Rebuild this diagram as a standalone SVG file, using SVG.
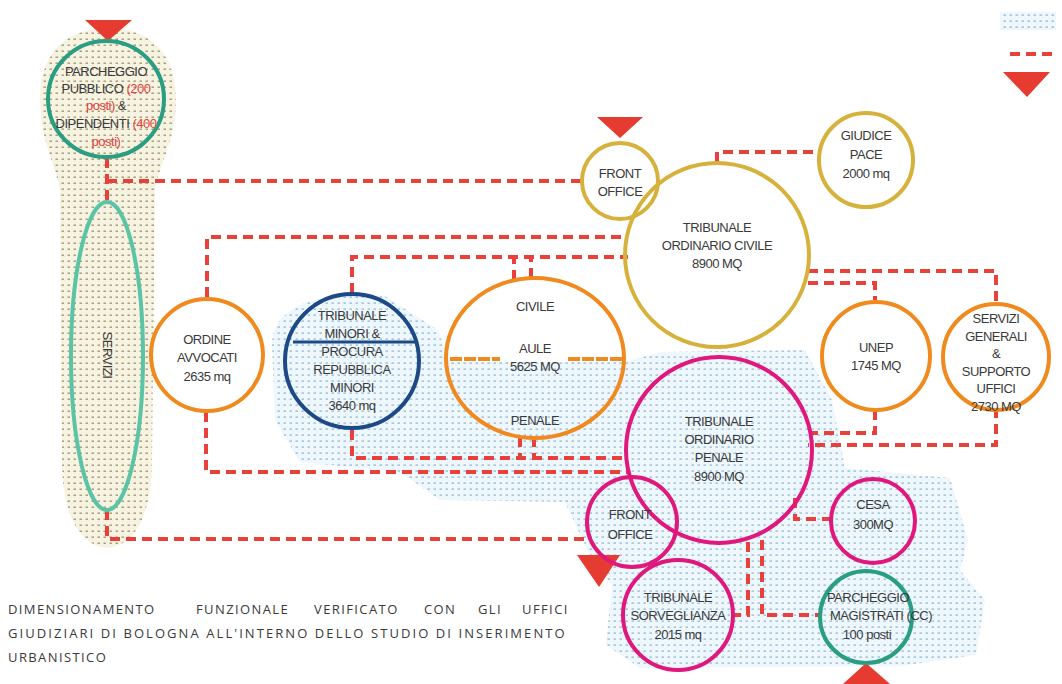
<svg xmlns="http://www.w3.org/2000/svg" width="1062" height="684" viewBox="0 0 1062 684">
<defs>
<pattern id="dotB" width="6" height="6" patternUnits="userSpaceOnUse"><rect width="6" height="6" fill="#eef7fc"/><rect x="1.5" y="2.5" width="2.5" height="1.2" fill="#8fb4d6"/></pattern>
<pattern id="dotY" width="6" height="6" patternUnits="userSpaceOnUse"><rect width="6" height="6" fill="#f7f3e2"/><rect x="1.5" y="2.5" width="2.5" height="1.4" fill="#a49a70"/></pattern>
</defs>
<style>
.t{font-family:"Liberation Sans",Arial,sans-serif;font-size:13px;fill:#3a3a3a;text-anchor:middle;letter-spacing:-0.5px}
.rt{fill:#e5403a}
.c{stroke:#e8403a;stroke-width:4;fill:none;stroke-dasharray:10 6}
.yel{fill:none;stroke:#d6b23c;stroke-width:4}
.org{fill:none;stroke:#f0891e;stroke-width:4}
.mag{fill:none;stroke:#e0177c;stroke-width:4}
.grn{fill:none;stroke:#2a9e82;stroke-width:4}
.tri{fill:#e63b30}
.note{font-family:"Open Sans","Liberation Sans",sans-serif;font-size:13px;fill:#3a3a3a;letter-spacing:1.4px}
</style>

<!-- background areas -->
<path d="M40,100 C40,45 75,28 108,28 C145,28 176,48 176,100 C176,140 160,162 155,190 L152,460 C152,505 140,545 107,548 C75,545 62,505 62,460 L60,190 C55,162 40,140 40,100 Z" fill="url(#dotY)"/>
<path d="M272,345 C272,302 330,290 385,296 L438,330 L450,362 L625,362 L660,352 L805,350 L832,400 L845,468 L950,478 L968,540 L960,570 L985,600 L976,655 L900,666 L640,668 L606,645 L612,585 L592,560 L565,502 L440,500 L400,472 L300,462 L275,420 Z" fill="url(#dotB)"/>

<!-- legend -->
<g id="legend">
<rect x="1000" y="12" width="56" height="18" fill="url(#dotB)"/>
<line x1="1010" y1="54" x2="1052" y2="54" class="c" stroke-dasharray="14 6"/>
<polygon points="1003,72 1050,72 1027,97" class="tri"/>
</g>

<!-- connectors -->
<g id="connectors">
<path class="c" d="M107,158 V202"/>
<path class="c" d="M107,181 H582"/>
<path class="c" d="M207,297 V237 H627"/>
<path class="c" d="M352,293 V257 H628"/>
<path class="c" d="M514,280 V257"/>
<path class="c" d="M531,278 V257"/>
<path class="c" d="M206,412 V472 H628"/>
<path class="c" d="M352,430 V458 H628"/>
<path class="c" d="M520,437 V458"/>
<path class="c" d="M534,437 V458"/>
<path class="c" d="M107,510 V539 H586"/>
<path class="c" d="M717,162 V152 H819"/>
<path class="c" d="M808,271 H996 V304"/>
<path class="c" d="M808,283 H875 V300"/>
<path class="c" d="M875,410 V433 H810"/>
<path class="c" d="M996,408 V445 H808"/>
<path class="c" d="M795,498 V519 H833"/>
<path class="c" d="M748,542 V615 H733"/>
<path class="c" d="M762,540 V615 H820"/>
<line x1="450" y1="359" x2="500" y2="359" stroke="#f0891e" stroke-width="4" stroke-dasharray="12 2"/>
<line x1="568" y1="359" x2="623" y2="359" stroke="#f0891e" stroke-width="4" stroke-dasharray="12 2"/>
</g>

<!-- nodes -->
<g id="parcheggio-pubblico">
<polygon points="85,20 132,20 108,41" class="tri"/>
<circle cx="106" cy="99" r="58" class="grn"/>
<text class="t" x="106" y="76">PARCHEGGIO</text>
<text class="t" x="106" y="93">PUBBLICO <tspan class="rt">(200</tspan></text>
<text class="t" x="106" y="110"><tspan class="rt">posti)</tspan> &amp;</text>
<text class="t" x="106" y="128">DIPENDENTI <tspan class="rt">(400</tspan></text>
<text class="t" x="106" y="146"><tspan class="rt">posti)</tspan></text>
</g>

<g id="servizi">
<ellipse cx="107" cy="356" rx="36" ry="154" fill="none" stroke="#5cc4a6" stroke-width="4"/>
<text class="t" transform="translate(103,355) rotate(90)">SERVIZI</text>
</g>

<g id="front-office-civile">
<polygon points="597,117 643,117 620,138" class="tri"/>
<circle cx="620" cy="181" r="38" class="yel"/>
<text class="t" x="620" y="178">FRONT</text>
<text class="t" x="620" y="196">OFFICE</text>
</g>

<g id="tribunale-civile">
<circle cx="717" cy="255" r="92" class="yel"/>
<text class="t" x="717" y="232">TRIBUNALE</text>
<text class="t" x="717" y="250">ORDINARIO CIVILE</text>
<text class="t" x="717" y="268">8900 MQ</text>
</g>

<g id="giudice-pace">
<circle cx="866" cy="160" r="47" class="yel"/>
<text class="t" x="866" y="140">GIUDICE</text>
<text class="t" x="866" y="159">PACE</text>
<text class="t" x="866" y="178">2000 mq</text>
</g>

<g id="ordine-avvocati">
<circle cx="207" cy="355" r="56" class="org"/>
<text class="t" x="207" y="344">ORDINE</text>
<text class="t" x="207" y="362">AVVOCATI</text>
<text class="t" x="207" y="381">2635 mq</text>
</g>

<g id="tribunale-minori">
<circle cx="352" cy="361" r="67" fill="none" stroke="#1d4a86" stroke-width="4"/>
<text class="t" x="352" y="320">TRIBUNALE</text>
<text class="t" x="352" y="338">MINORI &amp;</text>
<line x1="293" y1="342" x2="417" y2="342" stroke="#1d4a86" stroke-width="3"/>
<text class="t" x="352" y="356">PROCURA</text>
<text class="t" x="352" y="374">REPUBBLICA</text>
<text class="t" x="352" y="392">MINORI</text>
<text class="t" x="352" y="410">3640 mq</text>
</g>

<g id="aule">
<ellipse cx="535" cy="358" rx="89" ry="80" class="org"/>
<text class="t" x="535" y="311">CIVILE</text>
<text class="t" x="535" y="353">AULE</text>
<text class="t" x="535" y="371">5625 MQ</text>
<text class="t" x="535" y="425">PENALE</text>
</g>

<g id="unep">
<circle cx="876" cy="356" r="54" class="org"/>
<text class="t" x="876" y="352">UNEP</text>
<text class="t" x="876" y="370">1745 MQ</text>
</g>

<g id="servizi-generali">
<circle cx="996" cy="357" r="53" class="org"/>
<text class="t" x="996" y="323">SERVIZI</text>
<text class="t" x="996" y="341">GENERALI</text>
<text class="t" x="996" y="358">&amp;</text>
<text class="t" x="996" y="376">SUPPORTO</text>
<text class="t" x="996" y="393">UFFICI</text>
<text class="t" x="996" y="411">2730 MQ</text>
</g>

<g id="tribunale-penale">
<circle cx="719" cy="450" r="93" class="mag"/>
<text class="t" x="719" y="426">TRIBUNALE</text>
<text class="t" x="719" y="444">ORDINARIO</text>
<text class="t" x="719" y="462">PENALE</text>
<text class="t" x="719" y="481">8900 MQ</text>
</g>

<g id="front-office-penale">
<polygon points="577,555 620,555 599,587" class="tri"/>
<circle cx="632" cy="522" r="45" class="mag"/>
<text class="t" x="630" y="519">FRONT</text>
<text class="t" x="630" y="539">OFFICE</text>
</g>

<g id="cesa">
<circle cx="873" cy="521" r="42" class="mag"/>
<text class="t" x="873" y="509">CESA</text>
<text class="t" x="873" y="529">300MQ</text>
</g>

<g id="tribunale-sorveglianza">
<circle cx="678" cy="615" r="55" class="mag"/>
<text class="t" x="678" y="602">TRIBUNALE</text>
<text class="t" x="678" y="620">SORVEGLIANZA</text>
<text class="t" x="678" y="639">2015 mq</text>
</g>

<g id="parcheggio-magistrati">
<polygon points="843,684 890,684 866,663" class="tri"/>
<circle cx="866" cy="617" r="46" class="grn"/>
<text class="t" x="868" y="602">PARCHEGGIO</text>
<text class="t" x="881" y="620">MAGISTRATI (CC)</text>
<text class="t" x="867" y="639">100 posti</text>
</g>

<g id="caption">
<text class="note" y="614"><tspan x="8">DIMENSIONAMENTO</tspan><tspan x="196">FUNZIONALE</tspan><tspan x="314">VERIFICATO</tspan><tspan x="424">CON</tspan><tspan x="478">GLI</tspan><tspan x="522">UFFICI</tspan></text>
<text class="note" x="8" y="638" textLength="558" lengthAdjust="spacing">GIUDIZIARI DI BOLOGNA ALL'INTERNO DELLO STUDIO DI INSERIMENTO</text>
<text class="note" x="8" y="662">URBANISTICO</text>
</g>
</svg>
